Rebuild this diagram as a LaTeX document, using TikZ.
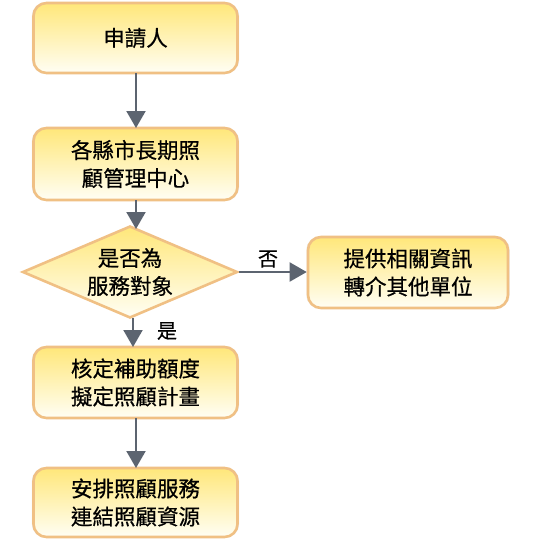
\documentclass[tikz,border=0pt]{standalone}
\usepackage{fontspec}
\setmainfont{Noto Sans CJK TC}
\newfontfamily\cjkb{Noto Sans CJK TC}[FakeBold=0.6]
\usetikzlibrary{shapes.geometric,arrows.meta,shadows}
\definecolor{boxtop}{HTML}{FFE77A}
\definecolor{boxbot}{HTML}{FFFEF4}
\definecolor{boxline}{HTML}{F0C084}
\definecolor{arrowc}{HTML}{5C6470}
\tikzset{
  stepbox/.style={rectangle, rounded corners=13pt, minimum width=204pt, minimum height=70pt,
    top color=boxtop, bottom color=boxbot, draw=boxline, line width=2.6pt, align=center,
    font=\cjkb\fontsize{21.5pt}{28pt}\selectfont, inner sep=0pt,
    drop shadow={shadow xshift=0pt, shadow yshift=0pt, opacity=0.25, fill=gray!60, shadow scale=1.015}},
  decide/.style={diamond, aspect=2.34, minimum width=215pt, minimum height=92pt, inner sep=0pt,
    top color=boxtop, bottom color=boxbot, draw=boxline, line width=2.6pt, align=center,
    font=\cjkb\fontsize{21.5pt}{28pt}\selectfont},
  flow/.style={draw=arrowc, line width=2pt, -{Triangle[width=19pt,length=17pt]}},
  lbl/.style={font=\cjkb\fontsize{20pt}{22pt}\selectfont, inner sep=0pt}
}
\begin{document}
\begin{tikzpicture}[x=1pt,y=-1pt]
\useasboundingbox[fill=white] (0,0) rectangle (543,539);
\node[stepbox] (a) at (135.5,38) {申請人};
\node[stepbox, minimum height=72pt] (b) at (135.5,164) {各縣市長期照\\顧管理中心};
\node[decide] (c) at (130,272) {是否為\\服務對象};
\node[stepbox, minimum width=200pt, minimum height=71pt] (r) at (408,272.5) {提供相關資訊\\轉介其他單位};
\node[stepbox, minimum height=71pt] (d) at (135.5,382.5) {核定補助額度\\擬定照顧計畫};
\node[stepbox, minimum height=69pt] (e) at (135.5,502.5) {安排照顧服務\\連結照顧資源};
\coordinate (aS) at (136,73);
\coordinate (bN) at (136,128);
\coordinate (bS) at (136,200);
\coordinate (cN) at (136,229);
\coordinate (cS) at (133,318);
\coordinate (dN) at (133,347);
\coordinate (dS) at (136,418);
\coordinate (eN) at (136,468);
\draw[flow] (aS) -- (bN);
\draw[flow] (bS) -- (cN);
\draw[flow] (c.east) -- (r.west |- c.east);
\draw[flow] (cS) -- (dN);
\draw[flow] (dS) -- (eN);
\node[lbl] (no) at (268,259) {否};
\node[lbl] (yes) at (167,331) {是};
\end{tikzpicture}
\end{document}
